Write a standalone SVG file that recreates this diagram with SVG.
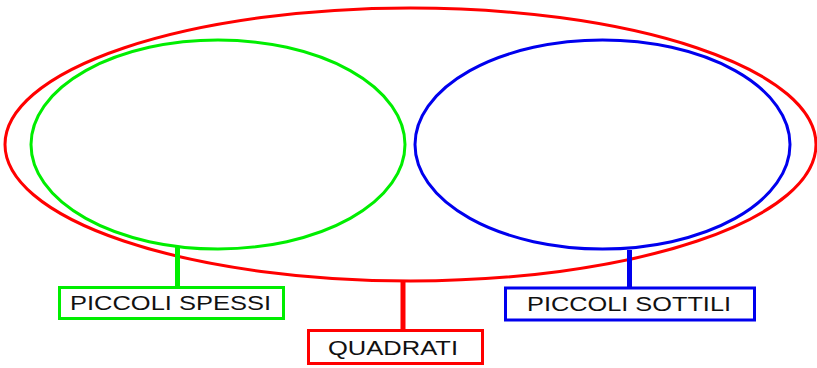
<svg xmlns="http://www.w3.org/2000/svg" width="817" height="368" viewBox="0 0 817 368">
<style>
.e{fill:none;stroke-width:3}
.b{fill:#fff;stroke-width:3}
.c{stroke-width:5}
.t{font-family:"Liberation Sans",Arial,sans-serif;font-size:20.5px;fill:#111}
</style>
<rect width="817" height="368" fill="#fff"/>
<g id="sets">
<ellipse id="quadrati-set" class="e" stroke="#ff0000" cx="410.5" cy="144.5" rx="405.5" ry="136.5"/>
<ellipse id="spessi-set" class="e" stroke="#00ee00" cx="218" cy="144.5" rx="187" ry="104.5"/>
<ellipse id="sottili-set" class="e" stroke="#0000ee" cx="602.5" cy="144.5" rx="187.5" ry="104.5"/>
</g>
<g id="connectors">
<line class="c" stroke="#00ee00" x1="177.5" y1="247" x2="177.5" y2="287"/>
<line class="c" stroke="#ff0000" x1="403" y1="281" x2="403" y2="330"/>
<line class="c" stroke="#0000ee" x1="629.5" y1="250" x2="629.5" y2="288"/>
</g>
<g id="node-spessi">
<rect class="b" stroke="#00ee00" x="59.5" y="287.5" width="224" height="31"/>
<text class="t" x="70" y="310" textLength="201" lengthAdjust="spacingAndGlyphs">PICCOLI SPESSI</text>
</g>
<g id="node-quadrati">
<rect class="b" stroke="#ff0000" x="308.5" y="330.5" width="174" height="33"/>
<text class="t" x="328" y="354.5" textLength="130" lengthAdjust="spacingAndGlyphs">QUADRATI</text>
</g>
<g id="node-sottili">
<rect class="b" stroke="#0000ee" x="505.5" y="288" width="249" height="32"/>
<text class="t" x="527" y="310.5" textLength="204" lengthAdjust="spacingAndGlyphs">PICCOLI SOTTILI</text>
</g>
</svg>
